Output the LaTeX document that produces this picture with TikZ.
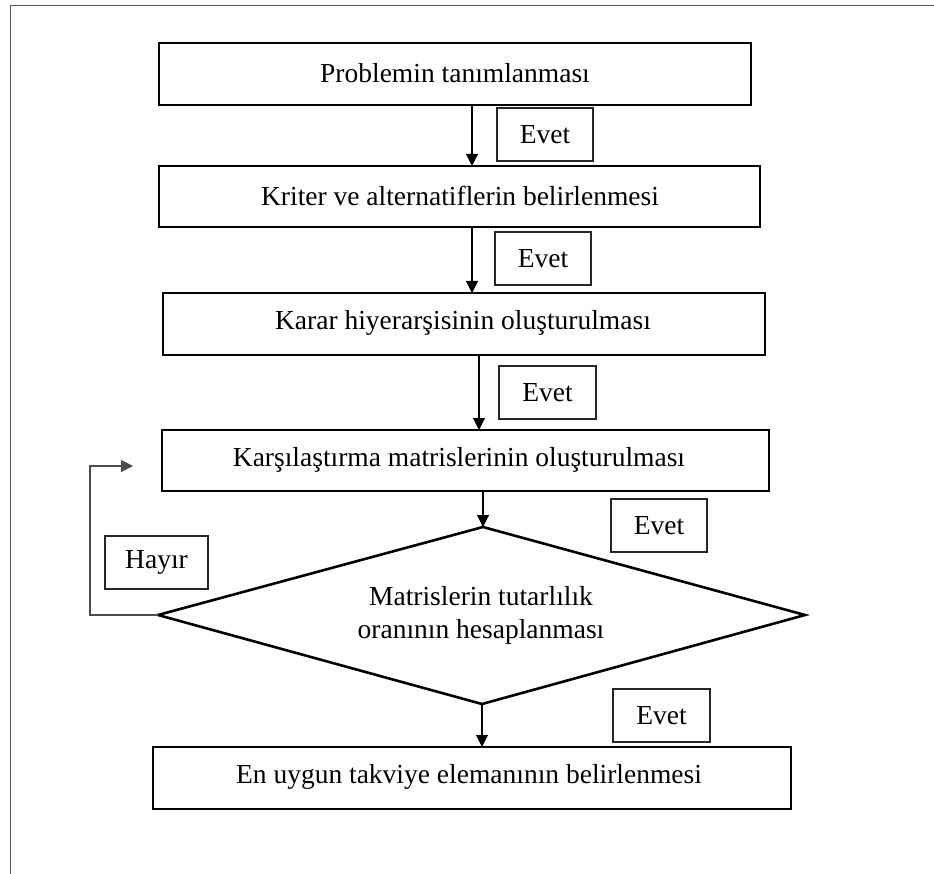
\documentclass[tikz,border=0pt]{standalone}
\usepackage{fontspec}
\setmainfont{Liberation Serif}
\usetikzlibrary{arrows.meta}
\begin{document}
\begin{tikzpicture}[x=1pt,y=-1pt,
  mainbox/.style={draw=black,line width=2.6pt},
  labelbox/.style={draw=black!85,line width=1.1pt},
  txt/.style={font=\fontsize{27.5}{32}\selectfont,inner sep=0pt},
  flow/.style={line width=1.1pt,-{Triangle[length=12pt,width=12pt]}},
  loopline/.style={draw=black!70,line width=1.1pt,-{Triangle[length=12pt,width=12pt]}}
]
\useasboundingbox (0,0) rectangle (934,874);
\draw[black!65,line width=1pt] (10,874) -- (10,6) -- (934,6);
% main boxes
\draw[mainbox] (159,43) rectangle (751,105);
\node[txt] (b1) at (455,73) {Problemin tanımlanması};
\draw[mainbox] (159,166) rectangle (760,227);
\node[txt] (b2) at (460,196) {Kriter ve alternatiflerin belirlenmesi};
\draw[mainbox] (163,293) rectangle (765,355);
\node[txt] (b3) at (463,323) {Karar hiyerarşisinin oluşturulması};
\draw[mainbox] (162,430) rectangle (769,491);
\node[txt] (b4) at (459,460) {Karşılaştırma matrislerinin oluşturulması};
\draw[mainbox] (158,615) -- (483,527) -- (805,615) -- (482,704) -- cycle;
\node[txt,align=center,font=\fontsize{27.5}{33}\selectfont] (d) at (481,615) {Matrislerin tutarlılık\\oranının hesaplanması};
\draw[mainbox] (153,747) rectangle (791,809);
\node[txt] (b5) at (469,777) {En uygun takviye elemanının belirlenmesi};
% named anchor points
\coordinate (a1s) at (472,105); \coordinate (a1e) at (472,166);
\coordinate (a2s) at (472,227); \coordinate (a2e) at (472,293);
\coordinate (a3s) at (479,355); \coordinate (a3e) at (479,430);
\coordinate (a4s) at (483,491); \coordinate (a4e) at (483,527);
\coordinate (a5s) at (482,704); \coordinate (a5e) at (482,747);
\coordinate (dl) at (158,615);
\coordinate (lp1) at (90,615); \coordinate (lp2) at (90,466);
\coordinate (lpe) at (133,466);
% arrows
\draw[flow] (a1s) -- (a1e);
\draw[flow] (a2s) -- (a2e);
\draw[flow] (a3s) -- (a3e);
\draw[flow] (a4s) -- (a4e);
\draw[flow] (a5s) -- (a5e);
\draw[loopline] (dl) -- (lp1) -- (lp2) -- (lpe);
% label boxes
\node[labelbox,txt,minimum width=96pt,minimum height=53pt] (e1) at (545,134.5) {Evet};
\node[labelbox,txt,minimum width=96pt,minimum height=53pt] (e2) at (543,258.5) {Evet};
\node[labelbox,txt,minimum width=97pt,minimum height=53pt] (e3) at (547.5,392.5) {Evet};
\node[labelbox,txt,minimum width=96pt,minimum height=53pt] (e4) at (659,525.5) {Evet};
\node[labelbox,txt,minimum width=97pt,minimum height=53pt] (e5) at (661.5,715.5) {Evet};
\node[labelbox,txt,minimum width=103pt,minimum height=53pt] (h) at (156.5,562.5) {Hayır};
\end{tikzpicture}
\end{document}
